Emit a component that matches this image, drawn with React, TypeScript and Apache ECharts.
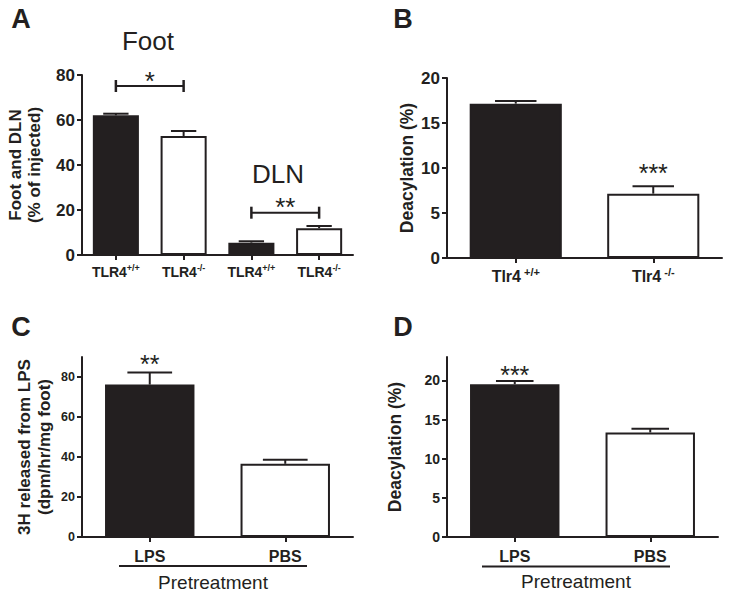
import React, { useEffect, useRef } from "react";
import * as echarts from "echarts";

const FONT = "Arial, 'Liberation Sans', Helvetica, sans-serif";
const INK = "#231f20";

// ---------- Panel A: Foot and DLN (% of injected) ----------
const catsA = ["TLR4+/+", "TLR4-/-", "TLR4+/+", "TLR4-/-"];
const genotypeA = ["wt", "ko", "wt", "ko"];
const valuesA = [62.1, 52.9, 5.5, 11.9];
const errTopA = [62.8, 55.1, 6.1, 12.9];
const ticksA = [0, 20, 40, 60, 80];
const bracketFromA = [0, 2];
const bracketToA = [1, 3];
const bracketLevelA = [75.1, 18.8];
const bracketSigA = ["*", "**"];
const groupLabelsA = ["Foot", "DLN"];

// ---------- Panel B: Deacylation (%) ----------
const catsB = ["Tlr4+/+", "Tlr4-/-"];
const genotypeB = ["wt", "ko"];
const valuesB = [17.15, 7.15];
const errTopB = [17.45, 7.97];
const sigB = ["", "***"];
const ticksB = [0, 5, 10, 15, 20];

// ---------- Panel C: 3H released from LPS ----------
const catsC = ["LPS", "PBS"];
const genotypeC = ["wt", "ko"];
const valuesC = [76.2, 36.6];
const errTopC = [82.3, 38.6];
const sigC = ["**", ""];
const ticksC = [0, 20, 40, 60, 80];

// ---------- Panel D: Deacylation (%) ----------
const catsD = ["LPS", "PBS"];
const genotypeD = ["wt", "ko"];
const valuesD = [19.53, 13.36];
const errTopD = [19.92, 13.83];
const sigD = ["***", ""];
const ticksD = [0, 5, 10, 15, 20];

const fillFor = (g: string) => (g === "wt" ? INK : "#ffffff");

function supFormatter() {
  return (v: string) => {
    const m = v.match(/^(.*?)([+-]\/[+-])$/);
    if (!m) return "{b|" + v + "}";
    return "{b|" + m[1] + "}{sup|" + m[2] + "}";
  };
}

function errorBarRender(barFrac: number, capFrac: number, sig: string[], sigGap: number, sigSize: number) {
  return (params: any, api: any) => {
    const i = api.value(0);
    const base = api.coord([i, api.value(1)]);
    const top = api.coord([i, api.value(2)]);
    const bw = api.size([1, 0])[0] * barFrac;
    const half = (bw * capFrac) / 2;
    const children: any[] = [
      { type: "line", shape: { x1: top[0], y1: base[1], x2: top[0], y2: top[1] }, style: { stroke: INK, lineWidth: 2 } },
      { type: "line", shape: { x1: top[0] - half, y1: top[1], x2: top[0] + half, y2: top[1] }, style: { stroke: INK, lineWidth: 2 } },
    ];
    const s = sig[params.dataIndex];
    if (s) {
      children.push({
        type: "text",
        x: top[0],
        y: top[1] - sigGap,
        style: {
          text: s,
          font: `${sigSize}px ${FONT}`,
          fill: INK,
          align: "center",
          verticalAlign: "middle",
          textAlign: "center",
          textVerticalAlign: "middle",
        },
      });
    }
    return { type: "group", children };
  };
}

function bracketRender(sig: string[], sigGap: number, sigSize: number) {
  return (params: any, api: any) => {
    const p1 = api.coord([api.value(0), api.value(2)]);
    const p2 = api.coord([api.value(1), api.value(2)]);
    const c = 6;
    return {
      type: "group",
      children: [
        { type: "line", shape: { x1: p1[0], y1: p1[1], x2: p2[0], y2: p2[1] }, style: { stroke: INK, lineWidth: 2 } },
        { type: "line", shape: { x1: p1[0], y1: p1[1] - c, x2: p1[0], y2: p1[1] + c }, style: { stroke: INK, lineWidth: 2.5 } },
        { type: "line", shape: { x1: p2[0], y1: p2[1] - c, x2: p2[0], y2: p2[1] + c }, style: { stroke: INK, lineWidth: 2.5 } },
        {
          type: "text",
          x: (p1[0] + p2[0]) / 2,
          y: p1[1] - sigGap,
          style: {
            text: sig[params.dataIndex],
            font: `${sigSize}px ${FONT}`,
            fill: INK,
            align: "center",
            verticalAlign: "middle",
            textAlign: "center",
            textVerticalAlign: "middle",
          },
        },
      ],
    };
  };
}

const axisLineStyle = { color: INK, width: 2 };

function makeXAxis(gridIndex: number, cats: string[], fontSize: number, supSize: number, margin: number, supPad: number) {
  return {
    type: "category",
    gridIndex,
    data: cats,
    axisLine: { show: true, lineStyle: axisLineStyle },
    axisTick: { show: true, alignWithLabel: true, length: 5, lineStyle: axisLineStyle },
    axisLabel: {
      interval: 0,
      margin,
      formatter: supFormatter(),
      rich: {
        b: { fontFamily: FONT, fontWeight: "bold", fontSize, color: INK, lineHeight: fontSize + 4 },
        sup: {
          fontFamily: FONT,
          fontWeight: "bold",
          fontSize: supSize,
          color: INK,
          verticalAlign: "top",
          padding: [0, 0, 0, supPad],
        },
      },
    },
    splitLine: { show: false },
  };
}

function makeYAxis(
  gridIndex: number,
  max: number,
  ticks: number[],
  name: string,
  nameGap: number,
  nameSize: number,
  nameLH: number,
  labelSize: number
) {
  return {
    type: "value",
    gridIndex,
    min: 0,
    max,
    interval: ticks[1] - ticks[0],
    name,
    nameLocation: "middle",
    nameGap,
    nameRotate: 90,
    nameTextStyle: { fontFamily: FONT, fontWeight: "bold", fontSize: nameSize, color: INK, lineHeight: nameLH },
    axisLine: { show: true, lineStyle: axisLineStyle },
    axisTick: { show: true, length: 5, lineStyle: axisLineStyle, customValues: ticks },
    axisLabel: {
      fontFamily: FONT,
      fontWeight: "bold",
      fontSize: labelSize,
      color: INK,
      margin: 7,
      customValues: ticks,
    },
    splitLine: { show: false },
  };
}

function barSeries(idx: number, values: number[], groups: string[], barWidth: string) {
  return {
    type: "bar",
    xAxisIndex: idx,
    yAxisIndex: idx,
    barWidth,
    data: values.map((v, i) => ({
      value: v,
      itemStyle: { color: fillFor(groups[i]), borderColor: INK, borderWidth: 2 },
    })),
    z: 2,
  };
}

function errSeries(idx: number, values: number[], errTop: number[], barFrac: number, capFrac: number, sig: string[], sigGap: number, sigSize: number) {
  return {
    type: "custom",
    xAxisIndex: idx,
    yAxisIndex: idx,
    encode: { x: 0, y: [1, 2] },
    data: values.map((v, i) => [i, v, errTop[i]]),
    renderItem: errorBarRender(barFrac, capFrac, sig, sigGap, sigSize),
    z: 3,
    clip: false,
  };
}

function textEl(text: string, x: number, y: number, size: number, weight: string) {
  return {
    type: "text",
    x,
    y,
    style: {
      text,
      font: `${weight} ${size}px ${FONT}`,
      fill: INK,
      align: "center",
      verticalAlign: "middle",
      textAlign: "center",
      textVerticalAlign: "middle",
    },
  };
}

function lineEl(x1: number, y1: number, x2: number, y2: number) {
  return { type: "line", shape: { x1, y1, x2, y2 }, style: { stroke: INK, lineWidth: 2 } };
}

export default function App() {
  const ref = useRef<HTMLDivElement>(null);
  useEffect(() => {
    if (!ref.current) return;
    const chart = echarts.init(ref.current, null, { renderer: "svg" });
    const option: any = {
      animation: false,
      backgroundColor: "#ffffff",
      grid: [
        { left: 82, top: 75, width: 271, height: 180 },
        { left: 447, top: 78, width: 275, height: 180 },
        { left: 82, top: 357, width: 271, height: 180 },
        { left: 447, top: 357, width: 271, height: 180 },
      ],
      xAxis: [
        makeXAxis(0, catsA, 14, 9, 8, 0),
        makeXAxis(1, catsB, 16, 11, 8, 3),
        makeXAxis(2, catsC, 16, 10, 9, 0),
        makeXAxis(3, catsD, 16, 10, 9, 0),
      ],
      yAxis: [
        makeYAxis(0, 80, ticksA, "Foot and DLN\n(% of injected)", 38, 17, 19, 17),
        makeYAxis(1, 20, ticksB, "Deacylation (%)", 30, 17.5, 20, 17),
        makeYAxis(2, 90, ticksC, "3H released from LPS\n(dpm/hr/mg foot)", 28, 17, 20, 12.5),
        makeYAxis(3, 23, ticksD, "Deacylation (%)", 42, 17.5, 20, 14),
      ],
      series: [
        barSeries(0, valuesA, genotypeA, "68%"),
        errSeries(0, valuesA, errTopA, 0.68, 0.55, ["", "", "", ""], 0, 26),
        {
          type: "custom",
          xAxisIndex: 0,
          yAxisIndex: 0,
          encode: { x: [0, 1], y: 2 },
          data: bracketFromA.map((f, i) => [f, bracketToA[i], bracketLevelA[i]]),
          renderItem: bracketRender(bracketSigA, 5.5, 26),
          z: 3,
          clip: false,
        },
        barSeries(1, valuesB, genotypeB, "67%"),
        errSeries(1, valuesB, errTopB, 0.67, 0.45, sigB, 13.5, 25),
        barSeries(2, valuesC, genotypeC, "66%"),
        errSeries(2, valuesC, errTopC, 0.66, 0.5, sigC, 8.5, 25),
        barSeries(3, valuesD, genotypeD, "66%"),
        errSeries(3, valuesD, errTopD, 0.66, 0.42, sigD, 6, 25),
      ],
      graphic: [
        textEl("A", 21, 19, 27, "bold"),
        textEl("B", 403, 19, 27, "bold"),
        textEl("C", 21, 327, 27, "bold"),
        textEl("D", 403, 327, 27, "bold"),
        textEl(groupLabelsA[0], 148, 41, 26, "normal"),
        textEl(groupLabelsA[1], 278, 173.5, 26, "normal"),
        lineEl(119, 566, 307, 566),
        textEl("Pretreatment", 213, 582, 19, "normal"),
        lineEl(482, 566.5, 670, 566.5),
        textEl("Pretreatment", 576, 581, 19, "normal"),
      ],
    };
    chart.setOption(option);
    return () => chart.dispose();
  }, []);
  return (
    <div
      ref={ref}
      style={{ position: "absolute", left: 0, top: 0, width: 729, height: 595, background: "#fff" }}
    />
  );
}
